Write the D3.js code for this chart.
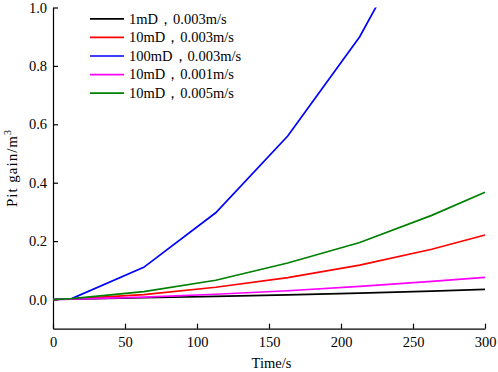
<!DOCTYPE html>
<html><head><meta charset="utf-8">
<script src="https://cdn.jsdelivr.net/npm/d3@7"></script>
<style>body{margin:0;background:#fff}svg{display:block}</style>
</head><body>
<svg id="c" width="498" height="372" font-family="'Liberation Serif', 'Times New Roman', serif"></svg>
<script>
const FONT = "'Liberation Serif', 'Times New Roman', serif";
const times = [0, 13, 63, 113, 163, 213, 263, 300];
const seriesNames = ["1mD，0.003m/s", "10mD，0.003m/s", "100mD，0.003m/s", "10mD，0.001m/s", "10mD，0.005m/s"];
const seriesColors = ["#000000", "#ff0000", "#0000ff", "#ff00ff", "#008000"];
const black   = [0, 0.001, 0.006, 0.011, 0.016, 0.022, 0.029, 0.035];
const red     = [0, 0.002, 0.017, 0.042, 0.075, 0.118, 0.172, 0.221];
const blue    = [0, 0.003, 0.110, 0.297, 0.560, 0.900, 1.350, 1.700];
const magenta = [0, 0.001, 0.008, 0.018, 0.030, 0.045, 0.062, 0.076];
const green   = [0, 0.003, 0.027, 0.066, 0.125, 0.195, 0.288, 0.367];
const xTicks = [0, 50, 100, 150, 200, 250, 300];
const yTicks = [0.0, 0.2, 0.4, 0.6, 0.8, 1.0];
const allSeries = [black, red, blue, magenta, green];

const svg = d3.select("#c");
const x = d3.scaleLinear().domain([0, 300]).range([53, 485]);
const y = d3.scaleLinear().domain([-0.1, 1.0]).range([328.7, 7.5]);

svg.append("defs").append("clipPath").attr("id","clip")
  .append("rect").attr("x", 53).attr("y", 7.5).attr("width", 440).attr("height", 322);

const xAxis = svg.append("g").attr("transform", "translate(0,328.7)")
  .call(d3.axisBottom(x).tickValues(xTicks).tickSizeInner(-5).tickSizeOuter(0).tickPadding(8).tickFormat(d3.format("d")));
const yAxis = svg.append("g").attr("transform", "translate(53,0)")
  .call(d3.axisLeft(y).tickValues(yTicks).tickSizeInner(-5).tickSizeOuter(0).tickPadding(6).tickFormat(d3.format(".1f")));
[xAxis, yAxis].forEach(a => {
  a.attr("font-family", FONT);
  a.selectAll("path.domain").attr("stroke", "#000").attr("stroke-width", 1.2);
  a.selectAll(".tick line").attr("stroke", "#000").attr("stroke-width", 1.2);
  a.selectAll("text").attr("font-size", 14.5).attr("fill", "#000");
});

const line = d3.line().x((d, i) => x(times[i])).y(d => y(d));
const g = svg.append("g").attr("clip-path", "url(#clip)");
allSeries.forEach((s, i) => {
  g.append("path").datum(s).attr("d", line).attr("fill", "none")
    .attr("stroke", seriesColors[i]).attr("stroke-width", 1.7);
});

const leg = svg.append("g");
seriesNames.forEach((n, i) => {
  const yy = 18.8 + i * 18.6;
  leg.append("line").attr("x1", 90).attr("x2", 124).attr("y1", yy).attr("y2", yy)
    .attr("stroke", seriesColors[i]).attr("stroke-width", 1.7);
  leg.append("text").attr("x", 129).attr("y", yy + 4.8).attr("font-size", 14.5).attr("fill", "#000").text(n);
});

svg.append("text").attr("x", 271.5).attr("y", 367.5).attr("text-anchor", "middle")
  .attr("font-size", 14.5).text("Time/s");
const ylg = svg.append("g").attr("transform", "translate(16.5,207) rotate(-90)");
ylg.append("text").attr("x", 0).attr("y", 0).attr("font-size", 15)
  .attr("textLength", 71).attr("lengthAdjust", "spacing").text("Pit gain/m");
ylg.append("text").attr("x", 72).attr("y", -6).attr("font-size", 10).text("3");
</script>
</body></html>
